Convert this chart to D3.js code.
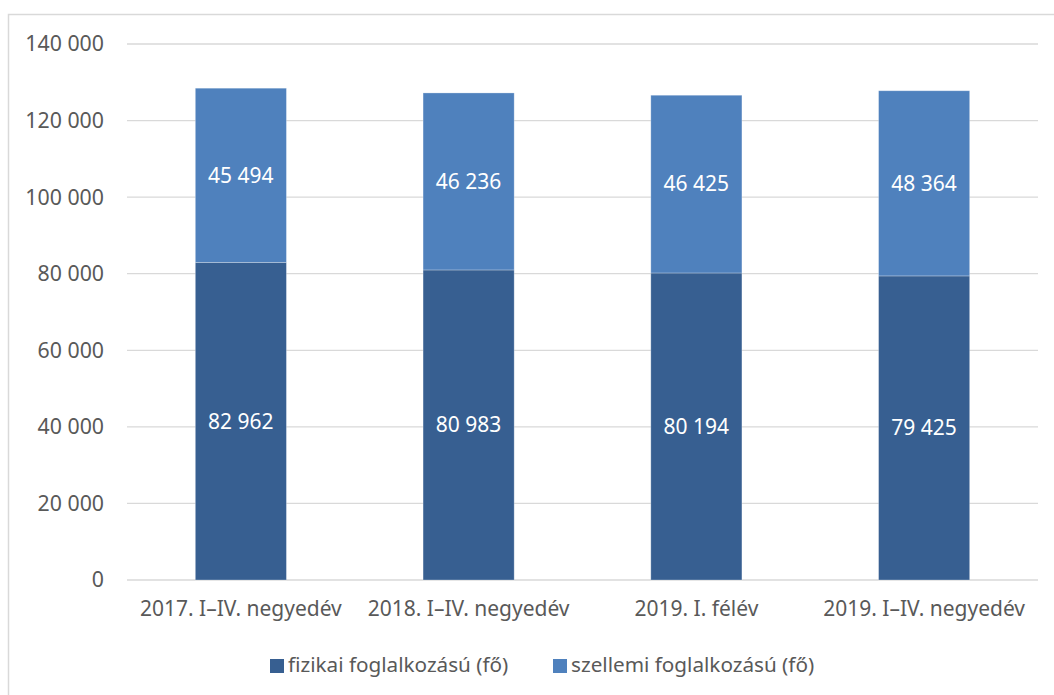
<!DOCTYPE html>
<html><head><meta charset="utf-8">
<script src="https://cdn.jsdelivr.net/npm/d3@7/dist/d3.min.js"></script>
<style>
html,body{margin:0;padding:0;background:#fff;}
svg{display:block;font-family:"Noto Sans",sans-serif;}
</style></head>
<body>
<svg id="chart" width="1054" height="695"></svg>
<script>
const categories = ["2017. I–IV. negyedév", "2018. I–IV. negyedév", "2019. I. félév", "2019. I–IV. negyedév"];
const fizikai = [82962, 80983, 80194, 79425];
const szellemi = [45494, 46236, 46425, 48364];
const seriesNames = ["fizikai foglalkozású (fő)", "szellemi foglalkozású (fő)"];
const yTicks = [0, 20000, 40000, 60000, 80000, 100000, 120000, 140000];

(function () {
const colors = ["#375F91", "#4F81BD"];
const textColor = "#595959";
const fmt = v => d3.format(",")(v).replace(/,/g, " ");

const svg = d3.select("#chart");
// chart border
svg.append("rect").attr("x", 8.5).attr("y", 14.5).attr("width", 1060).attr("height", 700)
  .attr("fill", "none").attr("stroke", "#D9D9D9").attr("stroke-width", 1.5);

const mLeft = 127, mRight = 1038, mTop = 44, mBottom = 580;
const x = d3.scaleBand().domain(categories).range([mLeft, mRight]).padding(0);
const y = d3.scaleLinear().domain([0, 140000]).range([mBottom, mTop]);

// gridlines
svg.append("g").selectAll("line").data(yTicks).join("line")
  .attr("x1", mLeft).attr("x2", mRight)
  .attr("y1", d => y(d)).attr("y2", d => y(d))
  .attr("stroke", "#D9D9D9").attr("stroke-width", 1.3);

// y labels
svg.append("g").selectAll("text").data(yTicks).join("text")
  .attr("x", 104).attr("y", d => y(d)).attr("dy", "0.35em")
  .attr("text-anchor", "end").attr("font-size", 21.3).attr("fill", textColor)
  .text(d => fmt(d));

const bw = x.bandwidth() * 0.4;
const data = categories.map((c, i) => ({c, v: [fizikai[i], szellemi[i]]}));

data.forEach(d => {
  const cx = x(d.c) + x.bandwidth() / 2;
  let base = 0;
  d.v.forEach((v, j) => {
    const y0 = y(base), y1 = y(base + v);
    svg.append("rect").attr("x", cx - bw / 2).attr("y", y1)
      .attr("width", bw).attr("height", y0 - y1)
      .attr("fill", colors[j]).attr("stroke", "#ffffff").attr("stroke-opacity", 0.35).attr("stroke-width", 0.8);
    svg.append("text").attr("x", cx).attr("y", (y0 + y1) / 2).attr("dy", "0.35em")
      .attr("text-anchor", "middle").attr("font-size", 21).attr("fill", "#ffffff")
      .text(fmt(v));
    base += v;
  });
});

// x labels
svg.append("g").selectAll("text").data(categories).join("text")
  .attr("x", d => x(d) + x.bandwidth() / 2).attr("y", 609).attr("dy", "0.35em")
  .attr("text-anchor", "middle").attr("font-size", 21).attr("fill", textColor)
  .text(d => d);

// legend
const legendX = [270, 553];
seriesNames.forEach((n, j) => {
  svg.append("rect").attr("x", legendX[j]).attr("y", 659).attr("width", 14).attr("height", 14)
    .attr("fill", colors[j]);
  svg.append("text").attr("x", legendX[j] + 18).attr("y", 665).attr("dy", "0.35em")
    .attr("font-size", 20.7).attr("fill", textColor).text(n);
});
})();
</script>
</body></html>
